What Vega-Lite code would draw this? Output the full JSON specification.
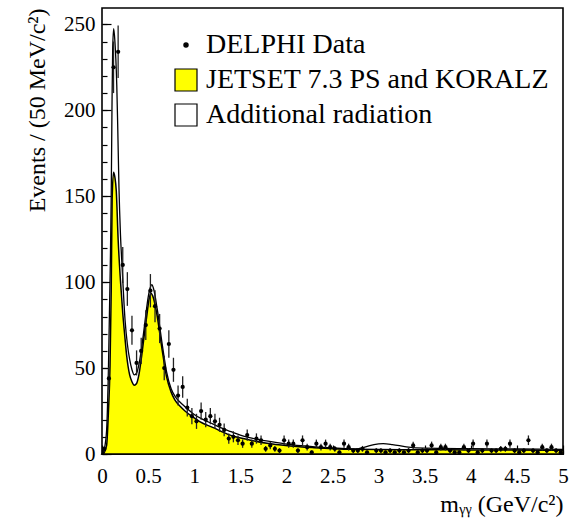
{
  "$schema": "https://vega.github.io/schema/vega-lite/v6.json",
  "width": 461,
  "height": 446,
  "autosize": {"type": "none"},
  "padding": {"left": 102, "top": 8, "right": 6, "bottom": 69},
  "background": "white",
  "config": {
    "view": {"stroke": "black", "strokeWidth": 1.6},
    "axis": {
      "labelFont": "Liberation Serif", "titleFont": "Liberation Serif",
      "labelColor": "black", "titleColor": "black", "tickColor": "black",
      "grid": false, "domain": false, "labelFontSize": 21, "titleFontSize": 24,
      "titleFontWeight": "normal", "tickWidth": 1.2, "labelFlush": false, "labelOverlap": false
    }
  },
  "datasets": {
    "curves": [
      {"mass": 0, "events": 0, "series": "Additional radiation"},
      {"mass": 0.025, "events": 3, "series": "Additional radiation"},
      {"mass": 0.05, "events": 14, "series": "Additional radiation"},
      {"mass": 0.07, "events": 50, "series": "Additional radiation"},
      {"mass": 0.09, "events": 110, "series": "Additional radiation"},
      {"mass": 0.1, "events": 150, "series": "Additional radiation"},
      {"mass": 0.108, "events": 200, "series": "Additional radiation"},
      {"mass": 0.116, "events": 236, "series": "Additional radiation"},
      {"mass": 0.127, "events": 247.5, "series": "Additional radiation"},
      {"mass": 0.14, "events": 240, "series": "Additional radiation"},
      {"mass": 0.15, "events": 230, "series": "Additional radiation"},
      {"mass": 0.16, "events": 215, "series": "Additional radiation"},
      {"mass": 0.17, "events": 192, "series": "Additional radiation"},
      {"mass": 0.184, "events": 155, "series": "Additional radiation"},
      {"mass": 0.2, "events": 128, "series": "Additional radiation"},
      {"mass": 0.217, "events": 110, "series": "Additional radiation"},
      {"mass": 0.25, "events": 78, "series": "Additional radiation"},
      {"mass": 0.275, "events": 64, "series": "Additional radiation"},
      {"mass": 0.3, "events": 55, "series": "Additional radiation"},
      {"mass": 0.325, "events": 49, "series": "Additional radiation"},
      {"mass": 0.35, "events": 46, "series": "Additional radiation"},
      {"mass": 0.375, "events": 47, "series": "Additional radiation"},
      {"mass": 0.4, "events": 52, "series": "Additional radiation"},
      {"mass": 0.425, "events": 60, "series": "Additional radiation"},
      {"mass": 0.45, "events": 70, "series": "Additional radiation"},
      {"mass": 0.475, "events": 81, "series": "Additional radiation"},
      {"mass": 0.5, "events": 91, "series": "Additional radiation"},
      {"mass": 0.525, "events": 97, "series": "Additional radiation"},
      {"mass": 0.54, "events": 98.5, "series": "Additional radiation"},
      {"mass": 0.56, "events": 96, "series": "Additional radiation"},
      {"mass": 0.6, "events": 84, "series": "Additional radiation"},
      {"mass": 0.65, "events": 65, "series": "Additional radiation"},
      {"mass": 0.7, "events": 48, "series": "Additional radiation"},
      {"mass": 0.75, "events": 38, "series": "Additional radiation"},
      {"mass": 0.8, "events": 33, "series": "Additional radiation"},
      {"mass": 0.85, "events": 30, "series": "Additional radiation"},
      {"mass": 0.9, "events": 27.5, "series": "Additional radiation"},
      {"mass": 1.0, "events": 23, "series": "Additional radiation"},
      {"mass": 1.1, "events": 20, "series": "Additional radiation"},
      {"mass": 1.2, "events": 17.5, "series": "Additional radiation"},
      {"mass": 1.3, "events": 15, "series": "Additional radiation"},
      {"mass": 1.4, "events": 13, "series": "Additional radiation"},
      {"mass": 1.5, "events": 11, "series": "Additional radiation"},
      {"mass": 1.6, "events": 9.5, "series": "Additional radiation"},
      {"mass": 1.7, "events": 8.3, "series": "Additional radiation"},
      {"mass": 1.8, "events": 7.5, "series": "Additional radiation"},
      {"mass": 1.9, "events": 6.6, "series": "Additional radiation"},
      {"mass": 2.0, "events": 5.8, "series": "Additional radiation"},
      {"mass": 2.2, "events": 4.7, "series": "Additional radiation"},
      {"mass": 2.4, "events": 3.8, "series": "Additional radiation"},
      {"mass": 2.6, "events": 3.2, "series": "Additional radiation"},
      {"mass": 2.75, "events": 3, "series": "Additional radiation"},
      {"mass": 2.85, "events": 4, "series": "Additional radiation"},
      {"mass": 2.95, "events": 5.5, "series": "Additional radiation"},
      {"mass": 3.05, "events": 6, "series": "Additional radiation"},
      {"mass": 3.15, "events": 5.5, "series": "Additional radiation"},
      {"mass": 3.3, "events": 4.2, "series": "Additional radiation"},
      {"mass": 3.5, "events": 3.4, "series": "Additional radiation"},
      {"mass": 4.0, "events": 3.1, "series": "Additional radiation"},
      {"mass": 4.5, "events": 2.9, "series": "Additional radiation"},
      {"mass": 5.0, "events": 2.7, "series": "Additional radiation"},
      {"mass": 0, "events": 0, "series": "JETSET 7.3 PS and KORALZ"},
      {"mass": 0.025, "events": 1, "series": "JETSET 7.3 PS and KORALZ"},
      {"mass": 0.05, "events": 5, "series": "JETSET 7.3 PS and KORALZ"},
      {"mass": 0.07, "events": 25, "series": "JETSET 7.3 PS and KORALZ"},
      {"mass": 0.087, "events": 51, "series": "JETSET 7.3 PS and KORALZ"},
      {"mass": 0.1, "events": 95, "series": "JETSET 7.3 PS and KORALZ"},
      {"mass": 0.11, "events": 148, "series": "JETSET 7.3 PS and KORALZ"},
      {"mass": 0.125, "events": 164, "series": "JETSET 7.3 PS and KORALZ"},
      {"mass": 0.14, "events": 161, "series": "JETSET 7.3 PS and KORALZ"},
      {"mass": 0.155, "events": 153, "series": "JETSET 7.3 PS and KORALZ"},
      {"mass": 0.175, "events": 125, "series": "JETSET 7.3 PS and KORALZ"},
      {"mass": 0.2, "events": 101, "series": "JETSET 7.3 PS and KORALZ"},
      {"mass": 0.225, "events": 82, "series": "JETSET 7.3 PS and KORALZ"},
      {"mass": 0.25, "events": 67, "series": "JETSET 7.3 PS and KORALZ"},
      {"mass": 0.268, "events": 57, "series": "JETSET 7.3 PS and KORALZ"},
      {"mass": 0.3, "events": 46, "series": "JETSET 7.3 PS and KORALZ"},
      {"mass": 0.325, "events": 42, "series": "JETSET 7.3 PS and KORALZ"},
      {"mass": 0.35, "events": 40, "series": "JETSET 7.3 PS and KORALZ"},
      {"mass": 0.375, "events": 41, "series": "JETSET 7.3 PS and KORALZ"},
      {"mass": 0.4, "events": 46, "series": "JETSET 7.3 PS and KORALZ"},
      {"mass": 0.43, "events": 57, "series": "JETSET 7.3 PS and KORALZ"},
      {"mass": 0.46, "events": 70, "series": "JETSET 7.3 PS and KORALZ"},
      {"mass": 0.485, "events": 80, "series": "JETSET 7.3 PS and KORALZ"},
      {"mass": 0.51, "events": 90, "series": "JETSET 7.3 PS and KORALZ"},
      {"mass": 0.53, "events": 93.6, "series": "JETSET 7.3 PS and KORALZ"},
      {"mass": 0.55, "events": 92, "series": "JETSET 7.3 PS and KORALZ"},
      {"mass": 0.593, "events": 82, "series": "JETSET 7.3 PS and KORALZ"},
      {"mass": 0.647, "events": 62.5, "series": "JETSET 7.3 PS and KORALZ"},
      {"mass": 0.7, "events": 45, "series": "JETSET 7.3 PS and KORALZ"},
      {"mass": 0.75, "events": 36, "series": "JETSET 7.3 PS and KORALZ"},
      {"mass": 0.79, "events": 31.5, "series": "JETSET 7.3 PS and KORALZ"},
      {"mass": 0.85, "events": 27.6, "series": "JETSET 7.3 PS and KORALZ"},
      {"mass": 0.9, "events": 25, "series": "JETSET 7.3 PS and KORALZ"},
      {"mass": 1.0, "events": 21, "series": "JETSET 7.3 PS and KORALZ"},
      {"mass": 1.06, "events": 18.8, "series": "JETSET 7.3 PS and KORALZ"},
      {"mass": 1.2, "events": 15.5, "series": "JETSET 7.3 PS and KORALZ"},
      {"mass": 1.39, "events": 11, "series": "JETSET 7.3 PS and KORALZ"},
      {"mass": 1.6, "events": 8.2, "series": "JETSET 7.3 PS and KORALZ"},
      {"mass": 1.79, "events": 6.2, "series": "JETSET 7.3 PS and KORALZ"},
      {"mass": 2.04, "events": 4.7, "series": "JETSET 7.3 PS and KORALZ"},
      {"mass": 2.3, "events": 3.7, "series": "JETSET 7.3 PS and KORALZ"},
      {"mass": 2.5, "events": 3.1, "series": "JETSET 7.3 PS and KORALZ"},
      {"mass": 2.75, "events": 2.7, "series": "JETSET 7.3 PS and KORALZ"},
      {"mass": 3.0, "events": 2.6, "series": "JETSET 7.3 PS and KORALZ"},
      {"mass": 3.5, "events": 2.5, "series": "JETSET 7.3 PS and KORALZ"},
      {"mass": 4.0, "events": 2.4, "series": "JETSET 7.3 PS and KORALZ"},
      {"mass": 4.5, "events": 2.3, "series": "JETSET 7.3 PS and KORALZ"},
      {"mass": 5.0, "events": 2.2, "series": "JETSET 7.3 PS and KORALZ"}
    ],
    "events": [
      {"mass": 0.025, "count": 3, "lo": 1.3, "hi": 4.7, "series": "DELPHI Data"},
      {"mass": 0.075, "count": 44, "lo": 37.4, "hi": 50.6, "series": "DELPHI Data"},
      {"mass": 0.125, "count": 225, "lo": 210, "hi": 240, "series": "DELPHI Data"},
      {"mass": 0.175, "count": 234, "lo": 218.7, "hi": 249.3, "series": "DELPHI Data"},
      {"mass": 0.225, "count": 110, "lo": 99.5, "hi": 120.5, "series": "DELPHI Data"},
      {"mass": 0.275, "count": 96, "lo": 86.2, "hi": 105.8, "series": "DELPHI Data"},
      {"mass": 0.325, "count": 72, "lo": 63.5, "hi": 80.5, "series": "DELPHI Data"},
      {"mass": 0.375, "count": 53, "lo": 45.7, "hi": 60.3, "series": "DELPHI Data"},
      {"mass": 0.425, "count": 60, "lo": 52.3, "hi": 67.7, "series": "DELPHI Data"},
      {"mass": 0.475, "count": 75, "lo": 66.3, "hi": 83.7, "series": "DELPHI Data"},
      {"mass": 0.525, "count": 95, "lo": 85.3, "hi": 104.7, "series": "DELPHI Data"},
      {"mass": 0.575, "count": 86, "lo": 76.7, "hi": 95.3, "series": "DELPHI Data"},
      {"mass": 0.625, "count": 73, "lo": 64.5, "hi": 81.5, "series": "DELPHI Data"},
      {"mass": 0.675, "count": 50, "lo": 42.9, "hi": 57.1, "series": "DELPHI Data"},
      {"mass": 0.725, "count": 64, "lo": 56, "hi": 72, "series": "DELPHI Data"},
      {"mass": 0.775, "count": 49, "lo": 42, "hi": 56, "series": "DELPHI Data"},
      {"mass": 0.825, "count": 34, "lo": 28.2, "hi": 39.8, "series": "DELPHI Data"},
      {"mass": 0.875, "count": 39, "lo": 32.8, "hi": 45.2, "series": "DELPHI Data"},
      {"mass": 0.925, "count": 27, "lo": 21.8, "hi": 32.2, "series": "DELPHI Data"},
      {"mass": 0.975, "count": 22, "lo": 17.3, "hi": 26.7, "series": "DELPHI Data"},
      {"mass": 1.025, "count": 19, "lo": 14.6, "hi": 23.4, "series": "DELPHI Data"},
      {"mass": 1.075, "count": 25, "lo": 20, "hi": 30, "series": "DELPHI Data"},
      {"mass": 1.125, "count": 20, "lo": 15.5, "hi": 24.5, "series": "DELPHI Data"},
      {"mass": 1.175, "count": 22, "lo": 17.3, "hi": 26.7, "series": "DELPHI Data"},
      {"mass": 1.225, "count": 19, "lo": 14.6, "hi": 23.4, "series": "DELPHI Data"},
      {"mass": 1.275, "count": 17, "lo": 12.9, "hi": 21.1, "series": "DELPHI Data"},
      {"mass": 1.325, "count": 14, "lo": 10.3, "hi": 17.7, "series": "DELPHI Data"},
      {"mass": 1.375, "count": 9, "lo": 6, "hi": 12, "series": "DELPHI Data"},
      {"mass": 1.425, "count": 10, "lo": 6.8, "hi": 13.2, "series": "DELPHI Data"},
      {"mass": 1.475, "count": 8, "lo": 5.2, "hi": 10.8, "series": "DELPHI Data"},
      {"mass": 1.525, "count": 6, "lo": 3.6, "hi": 8.4, "series": "DELPHI Data"},
      {"mass": 1.575, "count": 11, "lo": 7.7, "hi": 14.3, "series": "DELPHI Data"},
      {"mass": 1.625, "count": 6, "lo": 3.6, "hi": 8.4, "series": "DELPHI Data"},
      {"mass": 1.675, "count": 9, "lo": 6, "hi": 12, "series": "DELPHI Data"},
      {"mass": 1.725, "count": 8, "lo": 5.2, "hi": 10.8, "series": "DELPHI Data"},
      {"mass": 1.775, "count": 3, "lo": 1.3, "hi": 4.7, "series": "DELPHI Data"},
      {"mass": 1.825, "count": 5, "lo": 2.8, "hi": 7.2, "series": "DELPHI Data"},
      {"mass": 1.875, "count": 3, "lo": 1.3, "hi": 4.7, "series": "DELPHI Data"},
      {"mass": 1.925, "count": 2, "lo": 0.6, "hi": 3.4, "series": "DELPHI Data"},
      {"mass": 1.975, "count": 8, "lo": 5.2, "hi": 10.8, "series": "DELPHI Data"},
      {"mass": 2.025, "count": 6, "lo": 3.6, "hi": 8.4, "series": "DELPHI Data"},
      {"mass": 2.075, "count": 6, "lo": 3.6, "hi": 8.4, "series": "DELPHI Data"},
      {"mass": 2.125, "count": 2, "lo": 0.6, "hi": 3.4, "series": "DELPHI Data"},
      {"mass": 2.175, "count": 8, "lo": 5.2, "hi": 10.8, "series": "DELPHI Data"},
      {"mass": 2.225, "count": 4, "lo": 2, "hi": 6, "series": "DELPHI Data"},
      {"mass": 2.275, "count": 1, "lo": 0, "hi": 2, "series": "DELPHI Data"},
      {"mass": 2.325, "count": 6, "lo": 3.6, "hi": 8.4, "series": "DELPHI Data"},
      {"mass": 2.375, "count": 4, "lo": 2, "hi": 6, "series": "DELPHI Data"},
      {"mass": 2.425, "count": 6, "lo": 3.6, "hi": 8.4, "series": "DELPHI Data"},
      {"mass": 2.475, "count": 4, "lo": 2, "hi": 6, "series": "DELPHI Data"},
      {"mass": 2.525, "count": 3, "lo": 1.3, "hi": 4.7, "series": "DELPHI Data"},
      {"mass": 2.575, "count": 1, "lo": 0, "hi": 2, "series": "DELPHI Data"},
      {"mass": 2.625, "count": 6, "lo": 3.6, "hi": 8.4, "series": "DELPHI Data"},
      {"mass": 2.675, "count": 4, "lo": 2, "hi": 6, "series": "DELPHI Data"},
      {"mass": 2.725, "count": 2, "lo": 0.6, "hi": 3.4, "series": "DELPHI Data"},
      {"mass": 2.775, "count": 2, "lo": 0.6, "hi": 3.4, "series": "DELPHI Data"},
      {"mass": 2.825, "count": 3, "lo": 1.3, "hi": 4.7, "series": "DELPHI Data"},
      {"mass": 2.875, "count": 1, "lo": 0, "hi": 2, "series": "DELPHI Data"},
      {"mass": 2.975, "count": 2, "lo": 0.6, "hi": 3.4, "series": "DELPHI Data"},
      {"mass": 3.025, "count": 2, "lo": 0.6, "hi": 3.4, "series": "DELPHI Data"},
      {"mass": 3.075, "count": 1, "lo": 0, "hi": 2, "series": "DELPHI Data"},
      {"mass": 3.125, "count": 2, "lo": 0.6, "hi": 3.4, "series": "DELPHI Data"},
      {"mass": 3.175, "count": 1, "lo": 0, "hi": 2, "series": "DELPHI Data"},
      {"mass": 3.225, "count": 2, "lo": 0.6, "hi": 3.4, "series": "DELPHI Data"},
      {"mass": 3.275, "count": 1, "lo": 0, "hi": 2, "series": "DELPHI Data"},
      {"mass": 3.325, "count": 2, "lo": 0.6, "hi": 3.4, "series": "DELPHI Data"},
      {"mass": 3.375, "count": 5, "lo": 2.8, "hi": 7.2, "series": "DELPHI Data"},
      {"mass": 3.425, "count": 1, "lo": 0, "hi": 2, "series": "DELPHI Data"},
      {"mass": 3.475, "count": 2, "lo": 0.6, "hi": 3.4, "series": "DELPHI Data"},
      {"mass": 3.525, "count": 2, "lo": 0.6, "hi": 3.4, "series": "DELPHI Data"},
      {"mass": 3.575, "count": 5, "lo": 2.8, "hi": 7.2, "series": "DELPHI Data"},
      {"mass": 3.625, "count": 1, "lo": 0, "hi": 2, "series": "DELPHI Data"},
      {"mass": 3.675, "count": 4, "lo": 2, "hi": 6, "series": "DELPHI Data"},
      {"mass": 3.725, "count": 4, "lo": 2, "hi": 6, "series": "DELPHI Data"},
      {"mass": 3.775, "count": 2, "lo": 0.6, "hi": 3.4, "series": "DELPHI Data"},
      {"mass": 3.825, "count": 1, "lo": 0, "hi": 2, "series": "DELPHI Data"},
      {"mass": 3.875, "count": 1, "lo": 0, "hi": 2, "series": "DELPHI Data"},
      {"mass": 3.925, "count": 4, "lo": 2, "hi": 6, "series": "DELPHI Data"},
      {"mass": 3.975, "count": 2, "lo": 0.6, "hi": 3.4, "series": "DELPHI Data"},
      {"mass": 4.025, "count": 6, "lo": 3.6, "hi": 8.4, "series": "DELPHI Data"},
      {"mass": 4.075, "count": 1, "lo": 0, "hi": 2, "series": "DELPHI Data"},
      {"mass": 4.125, "count": 2, "lo": 0.6, "hi": 3.4, "series": "DELPHI Data"},
      {"mass": 4.175, "count": 6, "lo": 3.6, "hi": 8.4, "series": "DELPHI Data"},
      {"mass": 4.225, "count": 2, "lo": 0.6, "hi": 3.4, "series": "DELPHI Data"},
      {"mass": 4.275, "count": 2, "lo": 0.6, "hi": 3.4, "series": "DELPHI Data"},
      {"mass": 4.325, "count": 3, "lo": 1.3, "hi": 4.7, "series": "DELPHI Data"},
      {"mass": 4.375, "count": 3, "lo": 1.3, "hi": 4.7, "series": "DELPHI Data"},
      {"mass": 4.425, "count": 6, "lo": 3.6, "hi": 8.4, "series": "DELPHI Data"},
      {"mass": 4.475, "count": 2, "lo": 0.6, "hi": 3.4, "series": "DELPHI Data"},
      {"mass": 4.525, "count": 1, "lo": 0, "hi": 2, "series": "DELPHI Data"},
      {"mass": 4.575, "count": 2, "lo": 0.6, "hi": 3.4, "series": "DELPHI Data"},
      {"mass": 4.625, "count": 8, "lo": 5.2, "hi": 10.8, "series": "DELPHI Data"},
      {"mass": 4.675, "count": 2, "lo": 0.6, "hi": 3.4, "series": "DELPHI Data"},
      {"mass": 4.725, "count": 1, "lo": 0, "hi": 2, "series": "DELPHI Data"},
      {"mass": 4.775, "count": 4, "lo": 2, "hi": 6, "series": "DELPHI Data"},
      {"mass": 4.825, "count": 2, "lo": 0.6, "hi": 3.4, "series": "DELPHI Data"},
      {"mass": 4.875, "count": 4, "lo": 2, "hi": 6, "series": "DELPHI Data"},
      {"mass": 4.925, "count": 2, "lo": 0.6, "hi": 3.4, "series": "DELPHI Data"},
      {"mass": 4.975, "count": 1, "lo": 0, "hi": 2, "series": "DELPHI Data"}
    ]
  },
  "layer": [
    {
      "data": {"name": "curves"},
      "transform": [{"filter": "datum.series === 'Additional radiation'"}],
      "mark": {"type": "area", "interpolate": "monotone", "stroke": "black", "strokeWidth": 1.3},
      "encoding": {
        "x": {"field": "mass", "type": "quantitative",
          "scale": {"domain": [0, 5], "nice": false, "zero": false},
          "axis": {"orient": "bottom", "values": [0, 0.5, 1, 1.5, 2, 2.5, 3, 3.5, 4, 4.5, 5], "format": "~g",
            "ticks": false, "labelPadding": 11, "title": "mᵧᵧ (GeV/c²)", "titleAnchor": "end", "titlePadding": 6}},
        "y": {"field": "events", "type": "quantitative",
          "scale": {"domain": [0, 259.5], "nice": false},
          "axis": {"orient": "left", "values": [0, 50, 100, 150, 200, 250],
            "ticks": false, "labelPadding": 7, "title": "Events / (50 MeV/c²)", "titleAnchor": "end", "titlePadding": 14}},
        "fill": {"field": "series", "type": "nominal",
          "scale": {"domain": ["DELPHI Data", "JETSET 7.3 PS and KORALZ", "Additional radiation"], "range": ["black", "#ffff00", "white"]},
          "legend": {"orient": "none", "legendX": 70, "legendY": 23, "title": null, "labelFont": "Liberation Serif", "labelFontSize": 28, "labelColor": "black", "labelOffset": 6, "rowPadding": 7, "labelLimit": 500, "padding": 0, "symbolStrokeColor": "black", "symbolStrokeWidth": 1.2}}
      }
    },
    {
      "data": {"name": "curves"},
      "transform": [{"filter": "datum.series === 'JETSET 7.3 PS and KORALZ'"}],
      "mark": {"type": "area", "interpolate": "monotone", "stroke": "black", "strokeWidth": 1.5},
      "encoding": {
        "x": {"field": "mass", "type": "quantitative",
          "axis": {"orient": "bottom", "values": [0, 0.5, 1, 1.5, 2, 2.5, 3, 3.5, 4, 4.5, 5], "labels": false, "tickSize": -9, "title": null}},
        "y": {"field": "events", "type": "quantitative",
          "axis": {"orient": "left", "values": [0, 50, 100, 150, 200, 250], "labels": false, "tickSize": -9, "title": null}},
        "fill": {"field": "series", "type": "nominal",
          "legend": {"orient": "none", "legendX": 70, "legendY": 23, "title": null, "labelFont": "Liberation Serif", "labelFontSize": 28, "labelColor": "black", "labelOffset": 6, "rowPadding": 7, "labelLimit": 500, "padding": 0, "symbolStrokeColor": "black", "symbolStrokeWidth": 1.2}}
      }
    },
    {
      "data": {"name": "events"},
      "mark": {"type": "rule", "color": "#222222", "strokeWidth": 1.3},
      "encoding": {
        "x": {"field": "mass", "type": "quantitative",
          "axis": {"orient": "bottom", "values": [0,0.1,0.2,0.3,0.4,0.5,0.6,0.7,0.8,0.9,1,1.1,1.2,1.3,1.4,1.5,1.6,1.7,1.8,1.9,2,2.1,2.2,2.3,2.4,2.5,2.6,2.7,2.8,2.9,3,3.1,3.2,3.3,3.4,3.5,3.6,3.7,3.8,3.9,4,4.1,4.2,4.3,4.4,4.5,4.6,4.7,4.8,4.9,5], "labels": false, "tickSize": -4, "title": null}},
        "y": {"field": "lo", "type": "quantitative",
          "axis": {"orient": "left", "values": [0,10,20,30,40,50,60,70,80,90,100,110,120,130,140,150,160,170,180,190,200,210,220,230,240,250], "labels": false, "tickSize": -5, "title": null}},
        "y2": {"field": "hi"}
      }
    },
    {
      "data": {"name": "events"},
      "mark": {"type": "point", "filled": true, "opacity": 1},
      "encoding": {
        "x": {"field": "mass", "type": "quantitative", "axis": null},
        "y": {"field": "count", "type": "quantitative", "axis": null},
        "fill": {"field": "series", "type": "nominal",
          "legend": {"orient": "none", "legendX": 70, "legendY": 23, "title": null, "labelFont": "Liberation Serif", "labelFontSize": 28, "labelColor": "black", "labelOffset": 6, "rowPadding": 7, "labelLimit": 500, "padding": 0, "symbolStrokeColor": "black", "symbolStrokeWidth": 1.2}},
        "shape": {"field": "series", "type": "nominal",
          "scale": {"domain": ["DELPHI Data", "JETSET 7.3 PS and KORALZ", "Additional radiation"], "range": ["circle", "square", "square"]},
          "legend": {"orient": "none", "legendX": 70, "legendY": 23, "title": null, "labelFont": "Liberation Serif", "labelFontSize": 28, "labelColor": "black", "labelOffset": 6, "rowPadding": 7, "labelLimit": 500, "padding": 0, "symbolStrokeColor": "black", "symbolStrokeWidth": 1.2}},
        "size": {"field": "series", "type": "nominal",
          "scale": {"type": "ordinal", "domain": ["DELPHI Data", "JETSET 7.3 PS and KORALZ", "Additional radiation"], "range": [18, 484, 484]},
          "legend": {"orient": "none", "legendX": 70, "legendY": 23, "title": null, "labelFont": "Liberation Serif", "labelFontSize": 28, "labelColor": "black", "labelOffset": 6, "rowPadding": 7, "labelLimit": 500, "padding": 0, "symbolStrokeColor": "black", "symbolStrokeWidth": 1.2}}
      }
    }
  ],
  "resolve": {"axis": {"x": "independent", "y": "independent"}}
}
